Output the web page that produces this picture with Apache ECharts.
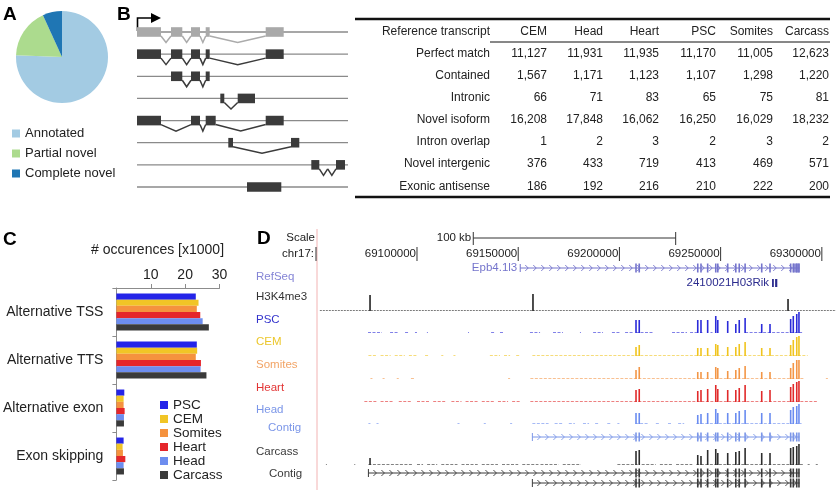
<!DOCTYPE html>
<html>
<head>
<meta charset="utf-8">
<script src="https://cdn.jsdelivr.net/npm/echarts@6/dist/echarts.min.js"></script>
<style>
html, body { margin: 0; padding: 0; background: #fff; }
#main { width: 836px; height: 490px; }
</style>
</head>
<body>
<div id="main"></div>
<script>
// ---------- A: transcript classes (share, %)
const pieNames = ['Annotated', 'Partial novel', 'Complete novel']
const pieShares = [75.6, 17.6, 6.8]
const pieColors = ['#a3cbe3', '#acdb8e', '#1f76b4']

// ---------- B: transcript models, [row, start, end] along the locus
const modelRows = [0, 1, 2, 3, 4, 5, 6, 7]
const modelExons = [
  [0, 0, 24], [0, 34, 45.3], [0, 54, 63], [0, 68.7, 72.7], [0, 128.7, 146.7],
  [1, 0, 24], [1, 34, 45.3], [1, 54, 63], [1, 68.7, 72.7], [1, 128.7, 146.7],
  [2, 34, 45.3], [2, 54, 63], [2, 68.7, 72.7],
  [3, 83.3, 87.3], [3, 100.7, 118],
  [4, 0, 24], [4, 54, 63], [4, 68.7, 78.7], [4, 128.7, 146.7],
  [5, 91.3, 96], [5, 154, 162.3],
  [6, 174.3, 182.3], [6, 199, 208],
  [7, 110, 144.3]
]
const modelIntrons = [
  [0, 24, 34], [0, 45.3, 54], [0, 63, 68.7], [0, 72.7, 128.7],
  [1, 24, 34], [1, 45.3, 54], [1, 63, 68.7], [1, 72.7, 128.7],
  [2, 45.3, 54], [2, 63, 68.7],
  [3, 87.3, 100.7],
  [4, 24, 54], [4, 63, 68.7], [4, 78.7, 128.7],
  [5, 96, 154],
  [6, 182.3, 190.7], [6, 190.7, 199]
]

// table
const tableCols = ['CEM', 'Head', 'Heart', 'PSC', 'Somites', 'Carcass']
const tableRows = ['Perfect match', 'Contained', 'Intronic', 'Novel isoform', 'Intron overlap', 'Novel intergenic', 'Exonic antisense']
const perfectMatch = [11127, 11931, 11935, 11170, 11005, 12623]
const contained = [1567, 1171, 1123, 1107, 1298, 1220]
const intronic = [66, 71, 83, 65, 75, 81]
const novelIsoform = [16208, 17848, 16062, 16250, 16029, 18232]
const intronOverlap = [1, 2, 3, 2, 3, 2]
const novelIntergenic = [376, 433, 719, 413, 469, 571]
const exonicAntisense = [186, 192, 216, 210, 222, 200]

// ---------- C: occurrences x1000
const eventTypes = ['Alternative TSS', 'Alternative TTS', 'Alternative exon', 'Exon skipping']
const tissues = ['PSC', 'CEM', 'Somites', 'Heart', 'Head', 'Carcass']
const tissueColors = ['#2424e8', '#f1c526', '#f5923e', '#e5262b', '#6d8def', '#3a3a3a']
const occPSC = [23.1, 23.4, 2.3, 2.1]
const occCEM = [23.9, 23.5, 2.1, 1.8]
const occSomites = [23.4, 23.1, 2.1, 1.9]
const occHeart = [24.4, 24.6, 2.4, 2.6]
const occHead = [25.1, 24.5, 2.2, 2.1]
const occCarcass = [26.9, 26.2, 2.2, 2.2]

// ---------- D: browser view (positions in kb on chr17)
const viewStart = 69050.6
const viewEnd = 69307
const rulerTicks = [69100, 69150, 69200, 69250, 69300]
const scaleBar = [69127.8, 69227.8]
const exonPos = [69208.2, 69209.8, 69238.7, 69240.3, 69243.6, 69247.6, 69248.6, 69253.5, 69257.5,
  69259.2, 69262.1, 69270.3, 69274.4, 69284.6, 69285.9, 69287.6, 69288.7]
const epbGene = [69151, 69289]
const rikGene = [69275.4, 69278]
const headContigs = [[69157, 69289]]
const carcassContigs1 = [[69076, 69289]]
const carcassContigs2 = [[69157, 69289]]

const h3k4Peaks = [[69076.8, 16], [69157.3, 17], [69283.3, 12]]
const h3k4Bg = [[69052, 69307]]
const pscHeights = [13, 13, 13, 13, 13, 17, 13, 12, 9, 13, 15, 9, 9, 14, 17, 19, 21]
const cemHeights = [9, 11, 8, 8, 8, 12, 11, 9, 9, 12, 14, 8, 8, 11, 16, 19, 20]
const somitesHeights = [9, 12, 7, 7, 7, 12, 11, 8, 9, 11, 13, 7, 7, 11, 16, 19, 19]
const heartHeights = [12, 13, 11, 12, 13, 17, 13, 12, 12, 14, 17, 11, 12, 15, 18, 20, 21]
const headHeights = [11, 11, 9, 10, 11, 15, 11, 11, 11, 13, 14, 11, 11, 14, 17, 18, 20]
const carcassHeights = [14, 15, 10, 9, 15, 16, 12, 12, 13, 14, 17, 12, 12, 17, 18, 19, 21]
const carcassExtra = [[69076.8, 7]]

const pscBg = [[69075.8, 69082.7], [69086.7, 69090.6], [69094.1, 69095.6], [69099, 69100], [69104.9, 69105.4],
  [69125.2, 69125.7], [69136.6, 69138.5], [69141, 69143], [69155.8, 69160.8], [69167.2, 69172.1],
  [69180.5, 69181], [69187, 69191.9], [69196.3, 69200.3], [69202.8, 69206.7], [69208.2, 69216.6],
  [69226, 69233.4], [69234.9, 69238.3], [69239.8, 69241], [69245, 69246], [69262.1, 69290.7]]
const cemBg = [[69076, 69080], [69082, 69087], [69089, 69094], [69096, 69100], [69104, 69106], [69112, 69113],
  [69118, 69119], [69136, 69141], [69143, 69146], [69149, 69151], [69157, 69293]]
const somitesBg = [[69077, 69078], [69083, 69084], [69090, 69091], [69097, 69099], [69145, 69146],
  [69156, 69291], [69302, 69303]]
const heartBg = [[69074, 69080], [69082, 69088], [69091, 69097], [69100, 69106], [69108, 69114], [69117, 69122],
  [69124, 69130], [69132, 69138], [69140, 69145], [69147, 69151], [69156, 69298]]
const headBg = [[69076, 69077], [69080, 69081], [69120, 69121], [69133, 69134], [69146, 69147], [69157, 69165],
  [69168, 69172], [69175, 69178], [69182, 69185], [69188, 69190], [69194, 69196], [69199, 69200],
  [69208, 69214], [69218, 69220], [69224, 69226], [69229, 69232], [69238, 69290]]
const carcassBg = [[69055, 69055.5], [69069, 69069.5], [69076, 69098], [69100, 69103], [69105, 69110],
  [69112, 69120], [69122, 69130], [69132, 69140], [69142, 69150], [69152, 69160], [69161, 69170],
  [69172, 69181], [69199, 69209], [69211, 69218], [69220, 69226], [69228, 69236], [69238, 69291],
  [69293, 69294], [69297, 69298]]

const FONT = 'Liberation Sans, Arial, Helvetica, sans-serif'

function txt(text, x, y, opt) {
  return {
    type: 'text', x: x, y: y, silent: true,
    style: Object.assign({text: text, fill: '#222', fontSize: 12, fontFamily: FONT, align: 'left', verticalAlign: 'middle'}, opt || {})
  }
}
function hline(x1, x2, y, w, c) {
  return {type: 'line', silent: true, shape: {x1: x1, y1: y, x2: x2, y2: y}, style: {stroke: c || '#111', lineWidth: w}}
}

// ---------- static texts / table
const graphics = []
graphics.push(txt('A', 3, 15, {fontSize: 19, fontWeight: 'bold', fill: '#000'}))
graphics.push(txt('B', 117, 15, {fontSize: 19, fontWeight: 'bold', fill: '#000'}))
graphics.push(txt('C', 3, 240, {fontSize: 19, fontWeight: 'bold', fill: '#000'}))
graphics.push(txt('D', 257, 239, {fontSize: 19, fontWeight: 'bold', fill: '#000'}))

// TSS arrow over the models
graphics.push({type: 'polyline', silent: true, shape: {points: [[137.5, 31], [137.5, 18], [152, 18]]},
  style: {stroke: '#000', lineWidth: 1.6, fill: null}})
graphics.push({type: 'polygon', silent: true, shape: {points: [[151, 13], [161, 18], [151, 23]]}, style: {fill: '#000'}})

const colRight = [547, 603, 659, 716, 773, 829]
const rowY = [54, 76, 98, 120, 142, 164, 187]
const tableValues = [perfectMatch, contained, intronic, novelIsoform, intronOverlap, novelIntergenic, exonicAntisense]
graphics.push(hline(355, 830, 19, 2.4))
graphics.push(hline(490, 830, 42, 1))
graphics.push(hline(355, 830, 197, 2.4))
graphics.push(txt('Reference transcript', 490, 32, {align: 'right'}))
tableCols.forEach(function (c, i) { graphics.push(txt(c, colRight[i], 32, {align: 'right'})) })
tableRows.forEach(function (r, j) {
  graphics.push(txt(r, 490, rowY[j], {align: 'right'}))
  tableValues[j].forEach(function (v, i) {
    graphics.push(txt(v.toLocaleString('en-US'), colRight[i], rowY[j], {align: 'right'}))
  })
})

graphics.push(txt('# occurences [x1000]', 157.5, 250, {align: 'center', fontSize: 14}))

// browser panel labels
graphics.push({type: 'line', silent: true, shape: {x1: 317, y1: 229, x2: 317, y2: 490}, style: {stroke: '#f2b3b3', lineWidth: 1}})
graphics.push(txt('Scale', 315, 238, {align: 'right', fontSize: 11.5}))
graphics.push(txt('chr17:', 314, 254, {align: 'right', fontSize: 11.5}))
graphics.push({type: 'line', silent: true, shape: {x1: 316, y1: 247, x2: 316, y2: 261}, style: {stroke: '#333', lineWidth: 1}})
const trackLabels = [
  ['RefSeq', 256, 277, '#8585d6'], ['H3K4me3', 256, 297, '#333'], ['PSC', 256, 320, '#3434cc'],
  ['CEM', 256, 342, '#ecc72c'], ['Somites', 256, 365, '#f2a466'], ['Heart', 256, 388, '#e23434'],
  ['Head', 256, 410, '#7b96e8'], ['Contig', 268, 428, '#7b96e8'], ['Carcass', 256, 452, '#3a3a3a'],
  ['Contig', 269, 474, '#3a3a3a']
]
trackLabels.forEach(function (l) { graphics.push(txt(l[0], l[1], l[2], {fontSize: 11.5, fill: l[3]})) })

// ---------- render helpers for custom series
function modelRender(params, api) {
  const row = api.value(0)
  const p1 = api.coord([api.value(1), row])
  const p2 = api.coord([api.value(2), row])
  const c = row === 0 ? '#a9a9a9' : '#3b3b3b'
  return {type: 'rect', shape: {x: p1[0], y: p1[1] - 4.8, width: p2[0] - p1[0], height: 9.6}, style: {fill: c}}
}
function intronRender(params, api) {
  const row = api.value(0)
  const p1 = api.coord([api.value(1), row])
  const p2 = api.coord([api.value(2), row])
  const c = row === 0 ? '#ababab' : '#3b3b3b'
  return {type: 'polyline', shape: {points: [[p1[0], p1[1] + 4], [(p1[0] + p2[0]) / 2, p1[1] + 10.5], [p2[0], p2[1] + 4]]},
    style: {stroke: c, lineWidth: 1.5, fill: null}}
}
function backboneRender(params, api) {
  const p1 = api.coord([0, api.value(0)])
  const p2 = api.coord([211, api.value(0)])
  return {type: 'line', shape: {x1: p1[0], y1: p1[1], x2: p2[0], y2: p2[1]}, style: {stroke: '#8a8a8a', lineWidth: 1.3}}
}
function geneModel(y, color, withLabel, endBlock) {
  return function (params, api) {
    const s = api.value(0), e = api.value(1)
    const x1 = api.coord([s, 0])[0]
    const x2 = api.coord([e, 0])[0]
    const ch = []
    ch.push({type: 'line', shape: {x1: x1, y1: y, x2: x2, y2: y}, style: {stroke: color, lineWidth: 1}})
    ch.push({type: 'line', shape: {x1: x1, y1: y - 4, x2: x1, y2: y + 4}, style: {stroke: color, lineWidth: 1}})
    for (let x = x1 + 7; x < x2 - 4; x += 8) {
      ch.push({type: 'polyline', shape: {points: [[x - 2, y - 3], [x + 1, y], [x - 2, y + 3]]},
        style: {stroke: color, lineWidth: 0.9, fill: null}})
    }
    exonPos.forEach(function (p) {
      if (p >= s && p <= e) {
        const xp = api.coord([p, 0])[0]
        ch.push({type: 'rect', shape: {x: xp - 0.8, y: y - 4.5, width: 1.6, height: 9}, style: {fill: color}})
      }
    })
    if (endBlock) {
      const xb = api.coord([exonPos[exonPos.length - 3], 0])[0]
      ch.push({type: 'rect', shape: {x: xb, y: y - 4.5, width: x2 - xb, height: 9}, style: {fill: color, opacity: 0.8}})
    }
    if (withLabel) {
      ch.push({type: 'text', x: x1 - 3, y: y, style: {text: withLabel, fill: color, fontSize: 11.5, fontFamily: FONT,
        align: 'right', verticalAlign: 'middle'}})
    }
    return {type: 'group', children: ch}
  }
}
function segRender(color, dashed) {
  return function (params, api) {
    const p1 = api.coord([api.value(0), 0])
    const p2 = api.coord([api.value(1), 0])
    return {type: 'line', shape: {x1: p1[0], y1: p1[1] - 0.5, x2: p2[0], y2: p2[1] - 0.5},
      style: {stroke: color, lineWidth: 0.8, opacity: 0.75, lineDash: dashed ? [2, 1] : [3, 1.5]}}
  }
}

// ---------- layout
const grids = [
  {left: 137, top: 32, width: 211, height: 155},   // 0 B models
  {left: 115, top: 288, width: 104.5, height: 192}, // 1 C bars
  {left: 317, top: 230, width: 519, height: 260}    // 2 D frame
]
const xAxes = [
  {gridIndex: 0, type: 'value', min: 0, max: 211, show: false},
  {gridIndex: 1, type: 'value', position: 'top', min: 0, max: 30, interval: 10,
    axisLine: {show: true, lineStyle: {color: '#8c8c8c'}},
    axisTick: {show: true, length: 4, lineStyle: {color: '#8c8c8c'}},
    axisLabel: {fontSize: 14, color: '#222', fontFamily: FONT, margin: 6, showMinLabel: false},
    splitLine: {show: false}},
  {gridIndex: 2, type: 'value', min: viewStart, max: viewEnd, show: false}
]
const yAxes = [
  {gridIndex: 0, type: 'value', min: 0, max: 7, inverse: true, show: false},
  {gridIndex: 1, type: 'category', data: eventTypes, inverse: true,
    axisLine: {show: true, lineStyle: {color: '#8c8c8c'}},
    axisTick: {show: true, length: 4, lineStyle: {color: '#8c8c8c'}},
    axisLabel: {fontSize: 14, color: '#222', fontFamily: FONT, margin: 13}},
  {gridIndex: 2, type: 'value', min: 0, max: 260, inverse: true, show: false}
]

const series = [
  {type: 'pie', center: [62, 57], radius: 46, startAngle: 90, clockwise: true, silent: true,
    label: {show: false}, labelLine: {show: false}, itemStyle: {borderWidth: 0},
    data: pieNames.map(function (n, i) { return {name: n, value: pieShares[i], itemStyle: {color: pieColors[i]}} })},
  {type: 'custom', xAxisIndex: 0, yAxisIndex: 0, renderItem: backboneRender, data: modelRows.map(function (r) { return [r] }), silent: true, z: 1},
  {type: 'custom', xAxisIndex: 0, yAxisIndex: 0, renderItem: intronRender, data: modelIntrons, silent: true, z: 2},
  {type: 'custom', xAxisIndex: 0, yAxisIndex: 0, renderItem: modelRender, data: modelExons, silent: true, z: 3}
]

const occ = [occPSC, occCEM, occSomites, occHeart, occHead, occCarcass]
tissues.forEach(function (t, i) {
  series.push({type: 'bar', name: t, xAxisIndex: 1, yAxisIndex: 1, data: occ[i], barGap: '0%', barCategoryGap: '23%',
    itemStyle: {color: tissueColors[i]}, silent: true})
})

// ruler, scale bar, gene models and contigs on the D frame
series.push({type: 'custom', xAxisIndex: 2, yAxisIndex: 2, data: rulerTicks.map(function (t) { return [t] }), silent: true,
  renderItem: function (params, api) {
    const x = api.coord([api.value(0), 0])[0]
    return {type: 'group', children: [
      {type: 'line', shape: {x1: x, y1: 247, x2: x, y2: 261}, style: {stroke: '#333', lineWidth: 1}},
      {type: 'text', x: x - 1, y: 254, style: {text: String(Math.round(api.value(0) * 1000)), fill: '#222',
        fontSize: 11.5, fontFamily: FONT, align: 'right', verticalAlign: 'middle'}}
    ]}
  }})
series.push({type: 'custom', xAxisIndex: 2, yAxisIndex: 2, data: [scaleBar], silent: true,
  renderItem: function (params, api) {
    const x1 = api.coord([api.value(0), 0])[0]
    const x2 = api.coord([api.value(1), 0])[0]
    const kb = Math.round(api.value(1) - api.value(0))
    return {type: 'group', children: [
      {type: 'line', shape: {x1: x1, y1: 238, x2: x2, y2: 238}, style: {stroke: '#333', lineWidth: 1}},
      {type: 'line', shape: {x1: x1, y1: 232, x2: x1, y2: 245}, style: {stroke: '#333', lineWidth: 1}},
      {type: 'line', shape: {x1: x2, y1: 232, x2: x2, y2: 245}, style: {stroke: '#333', lineWidth: 1}},
      {type: 'text', x: x1 - 2, y: 238, style: {text: kb + ' kb', fill: '#222', fontSize: 11.5, fontFamily: FONT,
        align: 'right', verticalAlign: 'middle'}}
    ]}
  }})
series.push({type: 'custom', xAxisIndex: 2, yAxisIndex: 2, data: [epbGene], silent: true,
  renderItem: geneModel(268, '#7474cc', 'Epb4.1l3', true)})
series.push({type: 'custom', xAxisIndex: 2, yAxisIndex: 2, data: [rikGene], silent: true,
  renderItem: function (params, api) {
    const x1 = api.coord([api.value(0), 0])[0]
    const x2 = api.coord([api.value(1), 0])[0]
    return {type: 'group', children: [
      {type: 'rect', shape: {x: x1, y: 279, width: 1.8, height: 8}, style: {fill: '#2b2b8e'}},
      {type: 'rect', shape: {x: x2 - 2.2, y: 279, width: 2.2, height: 8}, style: {fill: '#2b2b8e'}},
      {type: 'text', x: x1 - 3, y: 283, style: {text: '2410021H03Rik', fill: '#2b2b8e', fontSize: 11.5, fontFamily: FONT,
        align: 'right', verticalAlign: 'middle'}}
    ]}
  }})
series.push({type: 'custom', xAxisIndex: 2, yAxisIndex: 2, data: headContigs, silent: true,
  renderItem: geneModel(437, '#7b96e8', null, false)})
series.push({type: 'custom', xAxisIndex: 2, yAxisIndex: 2, data: carcassContigs1, silent: true,
  renderItem: geneModel(473, '#3a3a3a', null, false)})
series.push({type: 'custom', xAxisIndex: 2, yAxisIndex: 2, data: carcassContigs2, silent: true,
  renderItem: geneModel(483, '#3a3a3a', null, false)})

// signal tracks: one small grid each, bars = coverage peaks
function withPos(h) { return exonPos.map(function (p, i) { return [p, h[i]] }) }
const tracks = [
  {base: 311, color: '#222', peaks: h3k4Peaks, bg: h3k4Bg, dashed: true},
  {base: 333, color: '#2b2bd9', peaks: withPos(pscHeights), bg: pscBg},
  {base: 356, color: '#f0c41e', peaks: withPos(cemHeights), bg: cemBg},
  {base: 379, color: '#f39646', peaks: withPos(somitesHeights), bg: somitesBg},
  {base: 402, color: '#e12a2a', peaks: withPos(heartHeights), bg: heartBg},
  {base: 424, color: '#6a8cf0', peaks: withPos(headHeights), bg: headBg},
  {base: 465, color: '#2e2e2e', peaks: carcassExtra.concat(withPos(carcassHeights)), bg: carcassBg}
]
tracks.forEach(function (t) {
  const gi = grids.length
  grids.push({left: 317, width: 519, top: t.base - 22, height: 22})
  xAxes.push({gridIndex: gi, type: 'value', min: viewStart, max: viewEnd, show: false})
  yAxes.push({gridIndex: gi, type: 'value', min: 0, max: 22, show: false})
  series.push({type: 'custom', xAxisIndex: gi, yAxisIndex: gi, data: t.bg, silent: true,
    renderItem: segRender(t.color, t.dashed)})
  series.push({type: 'bar', xAxisIndex: gi, yAxisIndex: gi, data: t.peaks, barWidth: 1.6, silent: true,
    itemStyle: {color: t.color}})
})

const chart = echarts.init(document.getElementById('main'))
chart.setOption({
  animation: false,
  backgroundColor: '#fff',
  textStyle: {fontFamily: FONT},
  grid: grids,
  xAxis: xAxes,
  yAxis: yAxes,
  legend: [
    {data: pieNames, orient: 'vertical', left: 12, top: 127, icon: 'rect', itemWidth: 8, itemHeight: 8, itemGap: 7,
      selectedMode: false, padding: 0, textStyle: {fontSize: 13, color: '#222', fontFamily: FONT, lineHeight: 13}},
    {data: tissues, orient: 'vertical', left: 160, top: 398, icon: 'rect', itemWidth: 8, itemHeight: 8, itemGap: 0,
      selectedMode: false, padding: 0, textStyle: {fontSize: 13.5, color: '#222', fontFamily: FONT, lineHeight: 12.3}}
  ],
  graphic: graphics,
  series: series
})
</script>
</body>
</html>
